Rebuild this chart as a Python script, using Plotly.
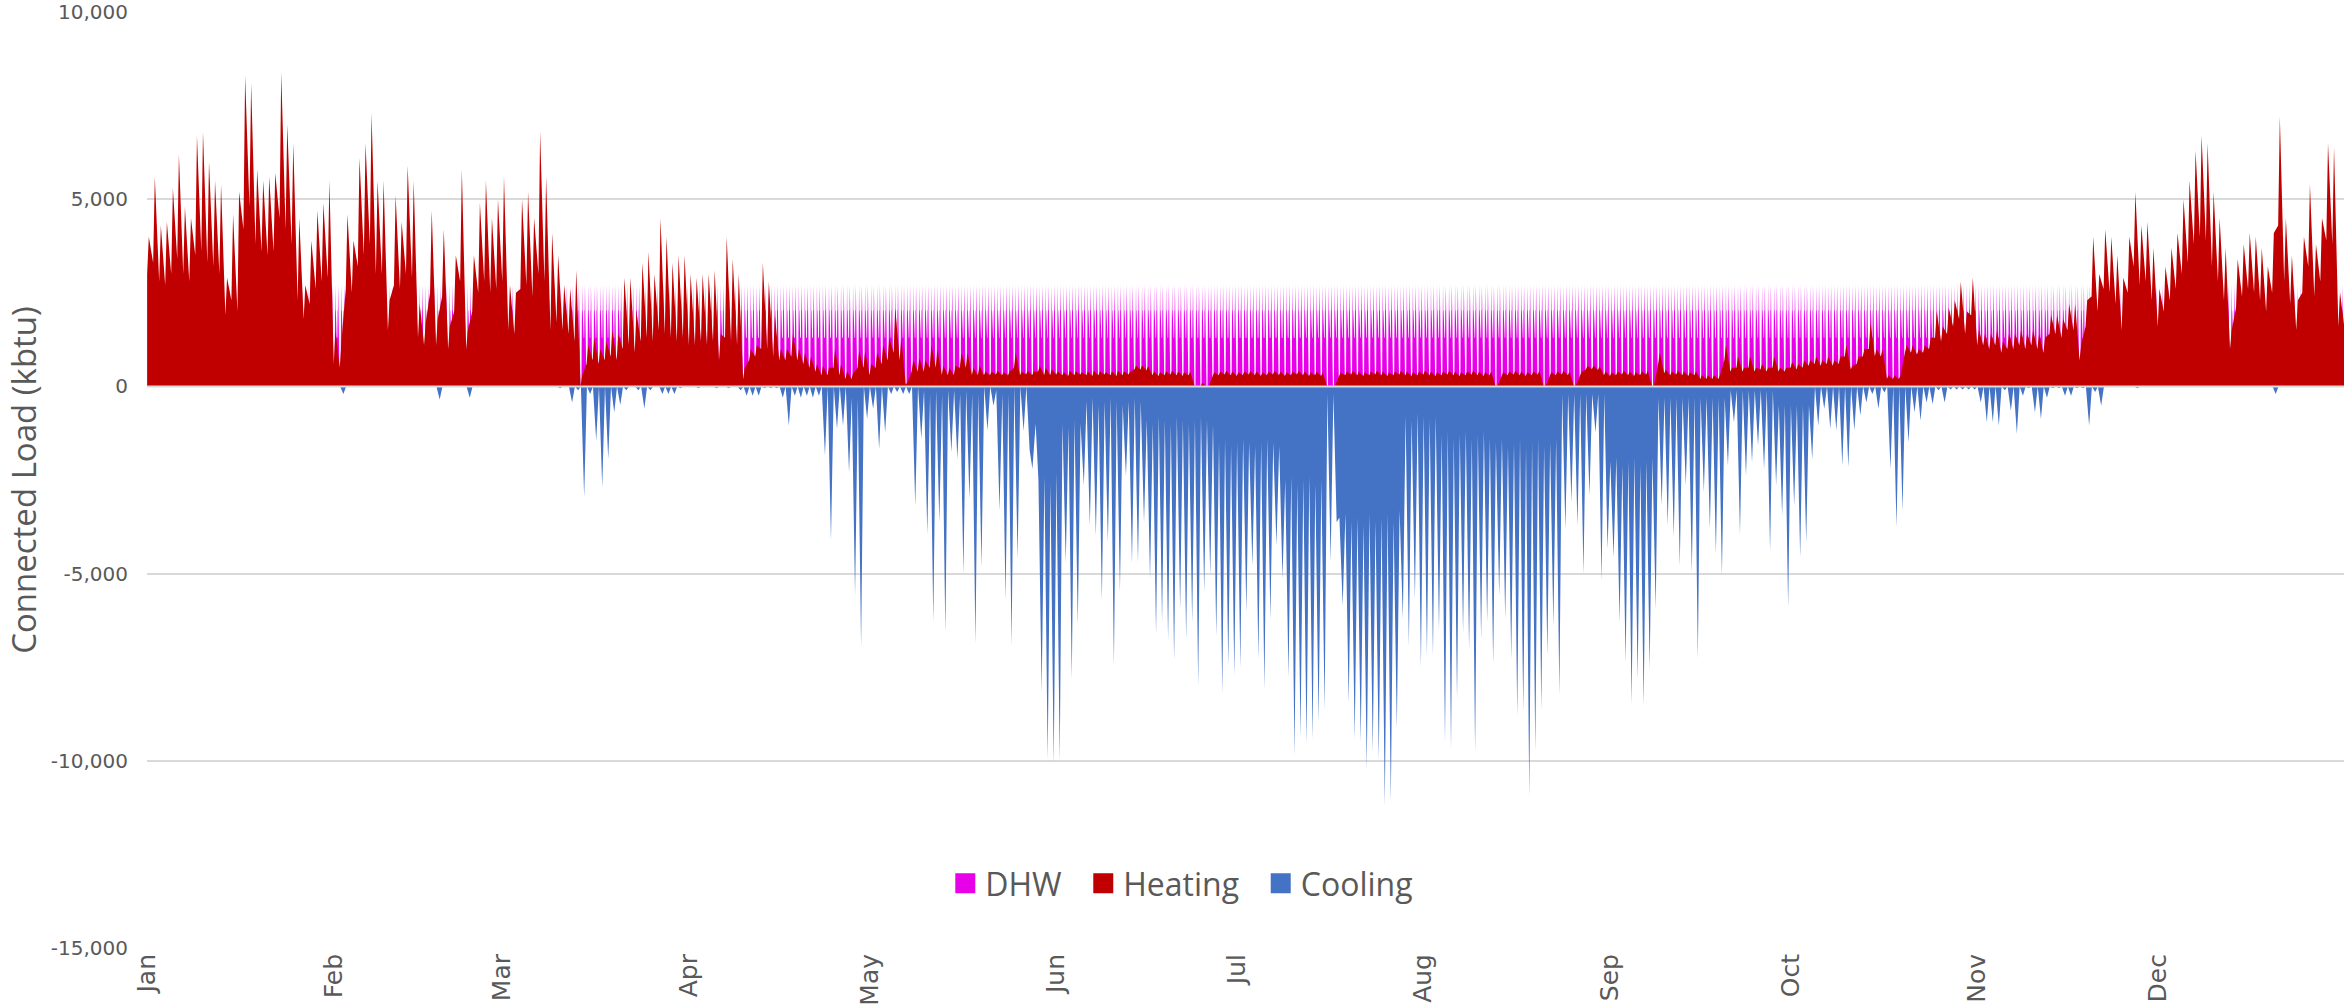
import numpy as np
import pandas as pd
import plotly.graph_objects as go

# ---------------- data ----------------
months = ["Jan", "Feb", "Mar", "Apr", "May", "Jun", "Jul", "Aug", "Sep", "Oct", "Nov", "Dec"]
month_starts = ["2019-01-01", "2019-02-01", "2019-03-01", "2019-04-01", "2019-05-01", "2019-06-01",
                "2019-07-01", "2019-08-01", "2019-09-01", "2019-10-01", "2019-11-01", "2019-12-01"]
y_tickvals = [-15000, -10000, -5000, 0, 5000, 10000]
y_ticktext = ["-15,000", "-10,000", "-5,000", "0", "5,000", "10,000"]
series_names = ["DHW", "Heating", "Cooling"]

# DHW load by hour of day (kbtu), same schedule every day
dhw_profile = [0, 0, 0, 0, 0, 1300, 2720, 2720, 2030, 2030, 1300, 1300,
               1300, 1300, 1300, 1300, 2030, 2030, 2720, 2030, 1300, 1300, 1300, 0]

# Heating: daily peak and daily low (kbtu), day 0 = Jan 1
heat_peak = [
    4000, 5600, 4300, 4400, 5300, 6200, 4800, 4500, 6700, 6800,
    6000, 5500, 5400, 2900, 4600, 5200, 8300, 8100, 5800, 5500,
    5600, 5700, 8400, 7000, 6500, 4500, 2700, 3900, 4700, 4900,
    5500, 1500, 1200, 4600, 3900, 6100, 6500, 7300, 5500, 5500,
    2300, 5100, 4400, 5900, 5500, 2200, 1700, 4700, 1800, 4200,
    1600, 3500, 5800, 1500, 3500, 4900, 5500, 4500, 5000, 5600,
    2700, 2500, 5000, 5200, 4500, 6800, 5600, 4100, 3500, 2700,
    2600, 3100, 300, 1100, 1300, 1000, 1200, 1500, 1400, 2900,
    2900, 2000, 3300, 3600, 3000, 4500, 4000, 3300, 3500, 3500,
    3000, 2900, 3000, 3000, 3100, 1400, 4000, 3400, 3000, 500,
    1000, 1100, 3300, 2800, 1900, 1000, 1000, 1400, 1000, 900,
    800, 600, 550, 500, 1000, 600, 400, 350, 950, 950,
    600, 900, 1100, 1300, 2100, 1300, 100, 700, 750, 700,
    1100, 1000, 550, 500, 550, 900, 900, 500, 550, 400,
    400, 420, 380, 400, 900, 400, 420, 400, 550, 500,
    450, 400, 380, 420, 400, 380, 400, 420, 400, 380,
    400, 420, 400, 380, 550, 560, 540, 400, 380, 400,
    420, 400, 380, 400, 0, 100, 0, 380, 400, 420,
    400, 380, 400, 420, 400, 380, 400, 420, 400, 380,
    400, 420, 400, 380, 400, 380, 0, 0, 380, 400,
    420, 400, 380, 400, 420, 400, 380, 400, 420, 400,
    380, 400, 420, 400, 380, 400, 420, 400, 380, 400,
    420, 400, 380, 400, 0, 380, 400, 420, 400, 380,
    400, 420, 0, 380, 400, 420, 400, 0, 380, 550,
    560, 540, 400, 380, 400, 420, 400, 380, 400, 420,
    0, 900, 450, 400, 420, 400, 380, 400, 300, 300,
    300, 300, 1100, 500, 800, 500, 800, 500, 600, 500,
    800, 500, 500, 650, 600, 700, 700, 800, 700, 800,
    700, 800, 1100, 550, 800, 1000, 1700, 1000, 1000, 300,
    300, 300, 1100, 1100, 1000, 1100, 1300, 2000, 1600, 2100,
    2300, 2800, 2000, 2900, 1500, 1400, 1400, 1500, 1200, 1400,
    1400, 1500, 1400, 1500, 1400, 1300, 1900, 1900, 1800, 2200,
    2200, 1100, 2300, 4000, 3000, 4200, 4000, 3500, 2900, 4000,
    5200, 4300, 4400, 3700, 2600, 3200, 3700, 4100, 5000, 5500,
    6300, 6700, 6500, 5200, 4500, 3700, 1500, 3400, 3800, 4100,
    4000, 3700, 3200, 4100, 7200, 4500, 3500, 2300, 4000, 5400,
    3800, 4500, 6500, 6400, 2500,
]
heat_base = [
    3000, 3300, 2800, 2700, 3000, 3400, 3000, 2800, 3500, 3600,
    3300, 3200, 3000, 1900, 2300, 2000, 4200, 4800, 3800, 3600,
    3500, 3600, 4500, 4200, 3800, 2300, 1800, 2200, 2600, 2800,
    2900, 600, 500, 2600, 2500, 3200, 3500, 3800, 3000, 3000,
    1500, 2700, 2600, 3000, 2900, 1300, 1100, 2500, 1100, 2400,
    1000, 2000, 2800, 1000, 2000, 2500, 2800, 2500, 2600, 2800,
    1500, 1400, 2600, 2700, 2400, 3000, 2800, 1500, 1700, 1500,
    1400, 1200, 0, 600, 700, 600, 700, 800, 700, 1000,
    1100, 900, 1200, 1300, 1200, 1500, 1400, 1300, 1200, 1300,
    1100, 1100, 1200, 1100, 1200, 700, 1300, 1200, 1100, 200,
    700, 800, 1000, 1000, 800, 700, 700, 800, 700, 600,
    500, 400, 300, 300, 500, 300, 200, 200, 500, 500,
    300, 500, 600, 700, 900, 700, 50, 400, 400, 400,
    500, 500, 300, 300, 300, 500, 500, 300, 300, 300,
    300, 320, 300, 300, 500, 300, 320, 300, 400, 300,
    300, 320, 300, 280, 300, 320, 300, 280, 300, 320,
    300, 280, 300, 320, 450, 450, 430, 300, 280, 300,
    320, 300, 280, 300, 0, 0, 0, 280, 300, 320,
    300, 280, 300, 320, 300, 280, 300, 320, 300, 280,
    300, 320, 300, 280, 300, 280, 0, 0, 280, 300,
    320, 300, 280, 300, 320, 300, 280, 300, 320, 300,
    280, 300, 320, 300, 280, 300, 320, 300, 280, 300,
    320, 300, 280, 300, 0, 280, 300, 320, 300, 280,
    300, 320, 0, 280, 300, 320, 300, 0, 280, 450,
    460, 440, 300, 280, 300, 320, 300, 280, 300, 320,
    0, 600, 350, 300, 320, 300, 280, 300, 200, 200,
    200, 200, 700, 400, 500, 400, 500, 400, 450, 400,
    500, 400, 400, 500, 450, 500, 550, 600, 550, 600,
    550, 600, 800, 450, 600, 800, 1000, 800, 800, 200,
    200, 200, 900, 900, 850, 900, 1000, 1300, 1200, 1400,
    1600, 1800, 1400, 1900, 1100, 1100, 1000, 1100, 900, 1000,
    1000, 1100, 1000, 1100, 1000, 900, 1400, 1400, 1300, 1500,
    1500, 700, 1600, 2400, 2000, 2600, 2500, 2200, 1500, 2500,
    3200, 2700, 2800, 2300, 1600, 2000, 2300, 2600, 3000, 3300,
    3800, 4000, 3900, 3200, 2800, 2300, 1000, 2100, 2400, 2600,
    2500, 2300, 2000, 2500, 4300, 2800, 2200, 1500, 2500, 3200,
    2400, 2800, 3900, 3800, 1600,
]

# Cooling: daily peak and daily low magnitude (kbtu, drawn as negative)
cool_peak = [
    0, 0, 0, 0, 0, 0, 0, 0, 0, 0,
    0, 0, 0, 0, 0, 0, 0, 0, 0, 0,
    0, 0, 0, 0, 0, 0, 0, 0, 0, 0,
    0, 0, 200, 0, 0, 0, 0, 0, 0, 0,
    0, 0, 0, 0, 0, 0, 0, 0, 350, 0,
    0, 0, 0, 300, 0, 0, 0, 0, 0, 0,
    0, 0, 0, 0, 0, 0, 0, 0, 50, 0,
    430, 100, 2960, 200, 1450, 2700, 1940, 700, 500, 100,
    0, 100, 590, 100, 0, 200, 200, 200, 50, 0,
    0, 50, 0, 0, 50, 0, 50, 0, 100, 250,
    250, 250, 50, 50, 50, 300, 1050, 250, 300, 250,
    300, 250, 1850, 4120, 1140, 1050, 2300, 5590, 6970, 870,
    600, 1670, 1230, 200, 150, 200, 200, 3190, 1400, 3940,
    6300, 3630, 6570, 1760, 1940, 5010, 3010, 6880, 4830, 1180,
    520, 3320, 5720, 6920, 4610, 1200, 1700, 1000, 8170, 9950,
    10080, 10000, 4700, 7810, 6390, 2650, 3720, 3990, 5720, 4170,
    7460, 5500, 2390, 4740, 4700, 3630, 5140, 6610, 6300, 6790,
    7320, 5950, 6750, 6300, 7990, 5500, 5060, 6660, 8210, 7460,
    7730, 7500, 6030, 4790, 7280, 8080, 6210, 4250, 5140, 7770,
    9860, 9370, 9550, 9420, 8970, 8620, 4700, 3630, 5860, 8440,
    9420, 9500, 10220, 9770, 9990, 11200, 11100, 9150, 6210, 6920,
    5680, 7500, 7190, 7190, 6520, 9500, 9700, 8350, 6570, 7010,
    9770, 6750, 6300, 7410, 5590, 6210, 7280, 8790, 8700, 10970,
    9730, 8620, 7190, 6390, 8260, 3810, 3100, 3720, 5010, 2920,
    1230, 5190, 4340, 4570, 6300, 7370, 8480, 7810, 8530, 7550,
    5950, 3190, 3720, 4030, 4790, 2650, 4970, 7280, 2830, 3810,
    4480, 5060, 2120, 960, 3940, 2390, 2030, 1580, 2210, 4390,
    2650, 3450, 5900, 3190, 4570, 4170, 1940, 1050, 600, 1140,
    1180, 2120, 2160, 1180, 780, 430, 200, 600, 160, 2210,
    3760, 3320, 1500, 700, 920, 430, 470, 100, 430, 80,
    80, 80, 80, 80, 430, 960, 960, 1050, 100, 650,
    1270, 250, 50, 700, 870, 300, 50, 50, 250, 250,
    50, 50, 1050, 150, 520, 0, 0, 0, 0, 0,
    50, 0, 0, 0, 0, 0, 0, 0, 0, 0,
    0, 0, 0, 0, 0, 0, 0, 0, 0, 0,
    0, 0, 0, 200, 0, 0, 0, 0, 0, 0,
    0, 0, 0, 0, 0,
]
cool_base = [
    0, 0, 0, 0, 0, 0, 0, 0, 0, 0, 0, 0, 0, 0, 0, 0, 0, 0, 0, 0,
    0, 0, 0, 0, 0, 0, 0, 0, 0, 0, 0, 0, 0, 0, 0, 0, 0, 0, 0, 0,
    0, 0, 0, 0, 0, 0, 0, 0, 0, 0, 0, 0, 0, 0, 0, 0, 0, 0, 0, 0,
    0, 0, 0, 0, 0, 0, 0, 0, 0, 0, 0, 0, 0, 0, 0, 0, 0, 0, 0, 0,
    0, 0, 0, 0, 0, 0, 0, 0, 0, 0, 0, 0, 0, 0, 0, 0, 0, 0, 0, 0,
    0, 0, 0, 0, 0, 0, 0, 0, 0, 0,
    0, 0, 0, 0, 0, 0, 0, 300, 300, 0,
    0, 0, 0, 0, 0, 0, 0, 0, 0, 100,
    200, 100, 200, 100, 100, 200, 100, 200, 200, 0,
    0, 100, 200, 200, 0, 0, 0, 2200, 2500, 2400,
    2600, 2300, 1000, 1100, 900, 1000, 400, 300, 500, 400,
    300, 400, 500, 400, 300, 400, 900, 1000, 800, 900,
    1000, 800, 900, 1000, 900, 800, 900, 1000, 1500, 1400,
    1600, 1500, 1400, 1500, 1600, 1500, 1400, 1500, 1600, 2500,
    2400, 2600, 2500, 2400, 2600, 2500, 200, 200, 3500, 3400,
    3600, 3500, 3700, 3400, 3600, 3500, 3400, 3600, 3300, 800,
    900, 700, 800, 900, 800, 1300, 1200, 1400, 1300, 1200,
    1400, 1300, 1200, 1400, 1500, 1400, 1600, 1500, 1400, 1600,
    1500, 1400, 1600, 1500, 1400, 200, 200, 200, 200, 200,
    200, 200, 200, 2000, 1900, 2100, 2000, 1900, 2100, 2000,
    1900, 300, 300, 300, 300, 300, 300, 300, 300, 300,
    300, 300, 300, 100, 100, 100, 100, 100, 100, 100,
    100, 500, 500, 500, 500, 500, 500, 0, 0, 0,
    0, 0, 0, 0, 0, 0, 0, 0, 0, 0, 0, 0, 0, 0, 0, 0, 0, 0, 0, 0,
    0, 0, 0, 0, 0, 0, 0, 0, 0, 0, 0, 0, 0, 0, 0, 0, 0, 0, 0, 0,
    0, 0, 0, 0, 0, 0, 0, 0, 0, 0, 0, 0, 0, 0, 0, 0, 0, 0, 0, 0,
    0, 0, 0, 0, 0, 0, 0, 0, 0, 0, 0, 0, 0, 0, 0, 0, 0, 0, 0, 0,
    0, 0, 0, 0, 0,
]

# ---------------- build the time series ----------------
start = pd.Timestamp("2019-01-01")
n_days = len(heat_peak)

def to_time(day_fracs):
    return start + pd.to_timedelta(np.asarray(day_fracs, dtype=float), unit="D")

# DHW: hourly schedule repeated each day
dhw_x, dhw_y = [], []
for d in range(n_days):
    for h, v in enumerate(dhw_profile):
        dhw_x.append(d + h / 24.0)
        dhw_y.append(v)

# Heating: daily low at midnight, peak in the morning; last day closes on its low
heat_x, heat_y = [], []
for d in range(n_days):
    heat_x += [d + 0.02, d + 0.30]
    heat_y += [heat_base[d], heat_peak[d]]
heat_x.append(n_days - 0.001)
heat_y.append(heat_base[-1])

# Cooling: daily low in the morning, peak in the afternoon (negative)
cool_x, cool_y = [], []
for d in range(n_days):
    cool_x += [d + 0.08, d + 0.62]
    cool_y += [-cool_base[d], -cool_peak[d]]
cool_x.append(n_days - 0.001)
cool_y.append(-cool_base[-1])

C_DHW = "#E800E8"
C_HEAT = "#C00000"
C_COOL = "#4472C4"
GRAY = "#595959"
colors = [C_DHW, C_HEAT, C_COOL]

fig = go.Figure()
fig.add_trace(go.Scatter(x=to_time(dhw_x), y=dhw_y, mode="lines", fill="tozeroy",
                         line=dict(width=0, color=C_DHW), fillcolor=C_DHW,
                         showlegend=False, hoverinfo="skip"))
fig.add_trace(go.Scatter(x=to_time(heat_x), y=heat_y, mode="lines", fill="tozeroy",
                         line=dict(width=0, color=C_HEAT), fillcolor=C_HEAT,
                         showlegend=False, hoverinfo="skip"))
fig.add_trace(go.Scatter(x=to_time(cool_x), y=cool_y, mode="lines", fill="tozeroy",
                         line=dict(width=0, color=C_COOL), fillcolor=C_COOL,
                         showlegend=False, hoverinfo="skip"))

# legend entries (square swatches); trailing no-break spaces widen the gap between entries
for i, (name, col) in enumerate(zip(series_names, colors)):
    label = name + ("\u00a0\u00a0" if i < len(series_names) - 1 else "")
    fig.add_trace(go.Scatter(x=[None], y=[None], mode="markers", name=label,
                             marker=dict(symbol="square", size=16, color=col,
                                         line=dict(width=4, color=col))))

fig.update_layout(
    width=2344, height=1008,
    margin=dict(l=147, r=0, t=12, b=60, autoexpand=False),
    paper_bgcolor="white", plot_bgcolor="white",
    showlegend=True,
    legend=dict(orientation="h", x=0.471, xanchor="center", y=0.069, yanchor="middle",
                font=dict(family="Open Sans", size=32, color=GRAY),
                itemwidth=30, bgcolor="rgba(0,0,0,0)"),
    xaxis=dict(type="date", range=["2019-01-01", "2019-12-31 23:00"],
               tickmode="array", tickvals=month_starts, ticktext=months,
               tickangle=-90, showgrid=False, zeroline=False, showline=False,
               ticks="", ticklabeloverflow="allow", automargin=False,
               tickfont=dict(family="DejaVu Sans", size=25, color=GRAY)),
    yaxis=dict(range=[-15000, 10000], tickmode="array", tickvals=y_tickvals,
               ticktext=y_ticktext, showgrid=True, gridcolor="#D9D9D9", gridwidth=1.5,
               zeroline=False, showline=False, ticks="", ticklabelstandoff=18,
               ticklabeloverflow="allow", automargin=False,
               tickfont=dict(family="DejaVu Sans", size=20, color=GRAY)),
    shapes=[dict(type="line", xref="paper", x0=0, x1=1, yref="y", y0=0, y1=0,
                 line=dict(color="#D9D9D9", width=2), layer="above")],
    annotations=[dict(text="Connected Load (kbtu)", textangle=-90, xref="paper", yref="paper",
                      x=-0.0565, y=0.5, xanchor="center", yanchor="middle", showarrow=False,
                      font=dict(family="Open Sans", size=33, color=GRAY))],
)

# remove the browser's default 8px page margin so the figure fills the window exactly
fig.write_html("out.html", config={"displayModeBar": False},
               post_script="document.body.style.margin='0px';")
